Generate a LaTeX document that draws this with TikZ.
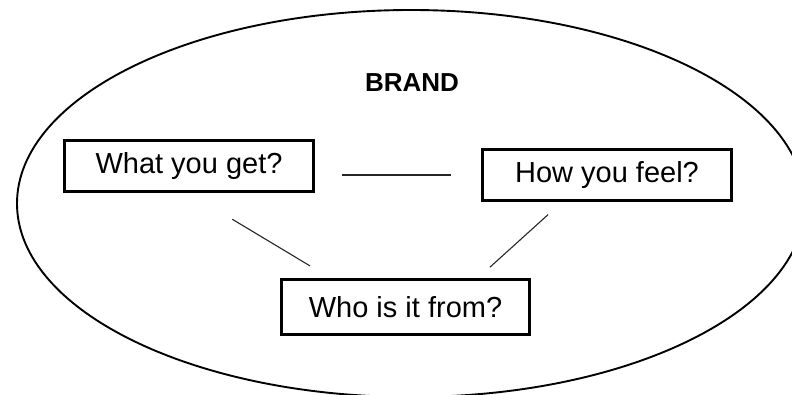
\documentclass[tikz,border=0pt]{standalone}
\usepackage{fontspec}
\setmainfont{Liberation Sans}
\usetikzlibrary{shapes.geometric}
\begin{document}
\begin{tikzpicture}[x=1pt,y=-1pt,
  qbox/.style={draw=black, line width=3.5pt, inner sep=0pt, minimum width=249pt, minimum height=51pt, font=\fontsize{29}{34}\selectfont},
  link/.style={draw=black!85, line width=1.1pt}]
\useasboundingbox (0,0) rectangle (792,394);
\clip (0,0) rectangle (792,394);
\node[draw=black, line width=1.9pt, ellipse, minimum width=788pt, minimum height=387pt, inner sep=0pt] (brandring) at (411,203.5) {};
\node[font=\fontsize{26}{30}\selectfont\bfseries] (brand) at (412,83) {BRAND};
\node[qbox] (get) at (189,166) {What you get?};
\node[qbox] (feel) at (607,175) {How you feel?};
\node[qbox, minimum width=248pt, minimum height=55pt] (who) at (405.5,307) {Who is it from?};
\draw[link, shorten <=26.5pt, shorten >=29.5pt] (get.east |- feel.west) -- (feel.west);
\draw[link, shorten <=50.5pt, shorten >=23pt] (get.south) -- ([xshift=50pt]who.north west);
\draw[link, shorten <=18.4pt, shorten >=15.6pt] ([xshift=81pt]feel.south west) -- ([xshift=-53pt]who.north east);
\end{tikzpicture}
\end{document}
